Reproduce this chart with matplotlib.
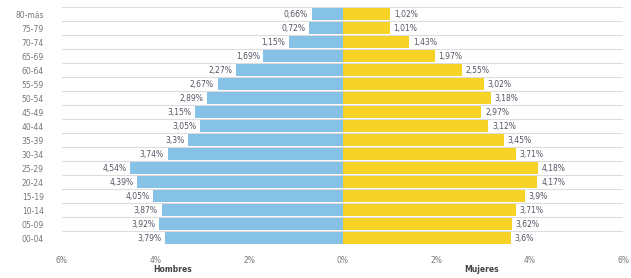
import matplotlib.pyplot as plt
import numpy as np

### DATA

age_groups = ["80-más", "75-79", "70-74", "65-69", "60-64", "55-59", "50-54",
              "45-49", "40-44", "35-39", "30-34", "25-29", "20-24", "15-19",
              "10-14", "05-09", "00-04"]
hombres = [0.66, 0.72, 1.15, 1.69, 2.27, 2.67, 2.89, 3.15, 3.05, 3.3, 3.74,
           4.54, 4.39, 4.05, 3.87, 3.92, 3.79]
mujeres = [1.02, 1.01, 1.43, 1.97, 2.55, 3.02, 3.18, 2.97, 3.12, 3.45, 3.71,
           4.18, 4.17, 3.9, 3.71, 3.62, 3.6]
xticks = [-6, -4, -2, 0, 2, 4, 6]
xtick_labels = ["6%", "4%", "2%", "0%", "2%", "4%", "6%"]

### STYLE

BLUE = "#86c2e6"
YELLOW = "#f6d327"
GREY = "#777777"


def fmt(v):
    """Spanish-style percent label."""
    s = f"{v:.2f}".rstrip("0").rstrip(".")
    return s.replace(".", ",") + "%"


fig = plt.figure(figsize=(6.31, 2.78), dpi=100)
ax = fig.add_axes([62 / 631, 1 - 245 / 278, (623 - 62) / 631, (245 - 7) / 278])

y = np.arange(len(age_groups))
ax.barh(y, [-v for v in hombres], height=0.8, color=BLUE, zorder=2)
ax.barh(y, mujeres, height=0.8, color=YELLOW, zorder=2)

for yi, h, m in zip(y, hombres, mujeres):
    ax.text(-h - 0.08, yi, fmt(h), ha="right", va="center", fontsize=5.5, color="#555566")
    ax.text(m + 0.08, yi, fmt(m), ha="left", va="center", fontsize=5.5, color="#555566")

# row separators
for b in np.arange(-0.5, len(age_groups), 1.0):
    ax.axhline(b, color="#dddddd", lw=0.8, zorder=1)

ax.set_xlim(-6, 6)
ax.set_ylim(len(age_groups) - 0.5, -0.5)
ax.set_yticks(y)
ax.set_yticklabels(age_groups, fontsize=5.5, color=GREY)
ax.set_xticks(xticks)
ax.set_xticklabels(xtick_labels, fontsize=5.5, color=GREY)
ax.tick_params(axis="y", length=0, pad=13)
ax.tick_params(axis="x", length=0, pad=8)
for s in ax.spines.values():
    s.set_visible(False)

fig.text(173 / 631, 1 - 270 / 278, "Hombres", ha="center", va="center",
         fontsize=5.5, fontweight="bold", color="#444444")
fig.text(482 / 631, 1 - 270 / 278, "Mujeres", ha="center", va="center",
         fontsize=5.5, fontweight="bold", color="#444444")

fig.savefig("out.png", dpi=100)
